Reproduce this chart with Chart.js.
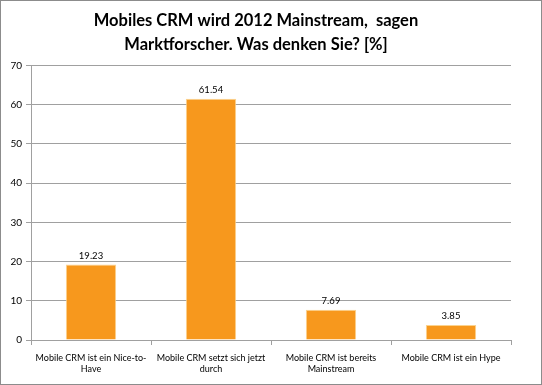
<!DOCTYPE html>
<html>
<head>
<meta charset="utf-8">
<script src="https://cdn.jsdelivr.net/npm/chart.js@4/dist/chart.umd.min.js"></script>
<style>
  html, body { margin: 0; padding: 0; background: #fff; }
  #frame {
    width: 540px; height: 383px;
    border: 1px solid #8c8c8c;
    position: relative;
  }
  canvas { display: block; }
</style>
</head>
<body>
<div id="frame"><canvas id="chart" width="540" height="383"></canvas></div>
<script>
  const titleLines = ['Mobiles CRM wird 2012 Mainstream,  sagen', 'Marktforscher. Was denken Sie? [%]'];
  const categories = [
    ['Mobile CRM ist ein Nice-to-', 'Have'],
    ['Mobile CRM setzt sich jetzt', 'durch'],
    ['Mobile CRM ist bereits', 'Mainstream'],
    'Mobile CRM ist ein Hype'
  ];
  const values = [19.23, 61.54, 7.69, 3.85];
  const yTicks = [0, 10, 20, 30, 40, 50, 60, 70];

  const FONT = 'Lato, "Liberation Sans", sans-serif';

  // draws the value above each bar
  const valueLabels = {
    id: 'valueLabels',
    afterDatasetsDraw(chart) {
      const ctx = chart.ctx;
      const meta = chart.getDatasetMeta(0);
      ctx.save();
      ctx.font = '9.5px ' + FONT;
      ctx.fillStyle = '#000';
      ctx.textAlign = 'center';
      ctx.textBaseline = 'bottom';
      meta.data.forEach((bar, i) => {
        ctx.fillText(values[i].toFixed(2), bar.x, bar.y - 4);
      });
      ctx.restore();
    }
  };

  new Chart(document.getElementById('chart'), {
    type: 'bar',
    data: {
      labels: categories,
      datasets: [{
        data: values,
        backgroundColor: '#f7981d',
        borderColor: '#fbd38f',
        borderWidth: 1,
        barPercentage: 0.42,
        categoryPercentage: 1
      }]
    },
    options: {
      responsive: false,
      animation: false,
      layout: { padding: { left: 0, right: 30, top: 0, bottom: 0 } },
      plugins: {
        legend: { display: false },
        tooltip: { enabled: false },
        title: {
          display: true,
          text: titleLines,
          color: '#000',
          font: { family: FONT, size: 16.5, weight: 'bold', lineHeight: 1.5 },
          padding: { top: 7, bottom: 8 }
        }
      },
      scales: {
        x: {
          grid: { drawOnChartArea: false, offset: true, tickLength: 5, color: '#a0a0a0' },
          border: { color: '#a0a0a0' },
          ticks: {
            color: '#000', font: { family: FONT, size: 9, lineHeight: 1.3 },
            padding: 7, maxRotation: 0, autoSkip: false
          },
          afterFit(scale) { scale.height = 44; }
        },
        y: {
          min: 0,
          max: 70,
          afterBuildTicks(scale) { scale.ticks = yTicks.map(v => ({ value: v })); },
          grid: { color: '#a0a0a0', tickLength: 5 },
          border: { color: '#a0a0a0' },
          ticks: { color: '#000', font: { family: FONT, size: 10 }, padding: 4 },
          afterFit(scale) { scale.width = 30; }
        }
      }
    },
    plugins: [valueLabels]
  });
</script>
</body>
</html>
